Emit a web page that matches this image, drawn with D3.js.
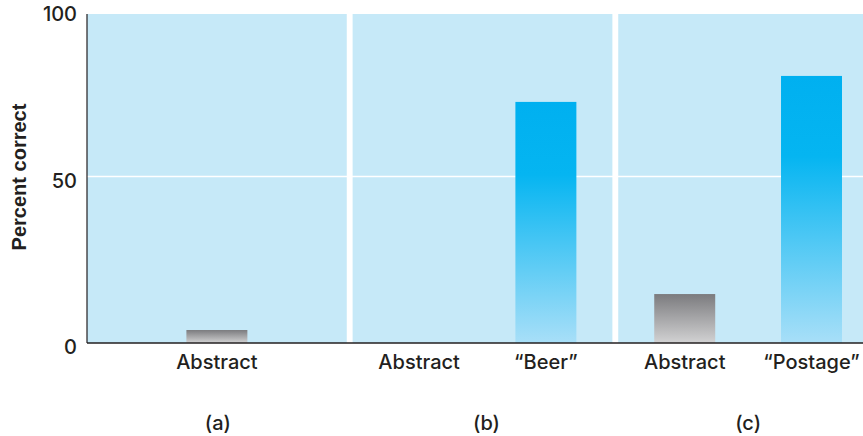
<!DOCTYPE html>
<html><head><meta charset="utf-8">
<script src="https://cdn.jsdelivr.net/npm/d3@7"></script>
<style>body{margin:0;background:#fff}svg{display:block}text{font-family:Inter,"Liberation Sans",Arial,sans-serif;fill:#231f20}</style>
</head><body><svg id="c" width="863" height="436"></svg>
<script>
const panels = ["(a)", "(b)", "(c)"];
const panelCategories = [["Abstract"], ["Abstract", "\u201cBeer\u201d"], ["Abstract", "\u201cPostage\u201d"]];
const panelValues = [[3.9], [null, 72.4], [14.7, 80.2]];
const yTicks = [0, 50, 100];
const yLabel = "Percent correct";

const svg = d3.select("#c");
const W = 863, H = 436;
const left = 87, bottom = 343, plotTop = 14;
const y = d3.scaleLinear().domain([0, 100]).range([bottom, 10]);
const xp = d3.scaleBand().domain(panels).range([left, 878]).paddingInner(0.022);

const defs = svg.append("defs");
const gb = defs.append("linearGradient").attr("id", "gBlue").attr("x1", 0).attr("y1", 0).attr("x2", 0).attr("y2", 1);
gb.append("stop").attr("offset", 0).attr("stop-color", "#00b0f0");
gb.append("stop").attr("offset", 0.3).attr("stop-color", "#05b5f1");
gb.append("stop").attr("offset", 1).attr("stop-color", "#a8dff8");
const gg = defs.append("linearGradient").attr("id", "gGray").attr("x1", 0).attr("y1", 0).attr("x2", 0).attr("y2", 1);
gg.append("stop").attr("offset", 0).attr("stop-color", "#7b7b7e");
gg.append("stop").attr("offset", 1).attr("stop-color", "#d2d2d3");

svg.selectAll("rect.bg").data(panels).join("rect").attr("class", "bg")
  .attr("x", d => xp(d)).attr("y", plotTop)
  .attr("width", xp.bandwidth()).attr("height", bottom - plotTop)
  .attr("fill", "#c6e9f8");

svg.selectAll("line.grid").data(yTicks.filter(t => t > 0 && t < 100)).join("line").attr("class", "grid")
  .attr("x1", left).attr("x2", W).attr("y1", d => y(d)).attr("y2", d => y(d))
  .attr("stroke", "#fff").attr("stroke-width", 1.5);

panels.forEach((p, i) => {
  const cats = panelCategories[i];
  const inner = d3.scaleBand().domain(cats.map((c, j) => j)).range([0, xp.bandwidth()]);
  if (cats.length === 1) inner.paddingInner(0).paddingOuter(1.63);
  else inner.paddingInner(0.519).paddingOuter(0.284);
  const bw = inner.bandwidth();
  const g = svg.append("g").attr("transform", `translate(${xp(p)},0)`);
  cats.forEach((c, j) => {
    const v = panelValues[i][j];
    if (v != null) {
      g.append("rect").attr("x", inner(j)).attr("y", y(v))
        .attr("width", bw).attr("height", bottom - y(v))
        .attr("fill", c === "Abstract" ? "url(#gGray)" : "url(#gBlue)");
    }
    g.append("text").attr("x", inner(j) + bw / 2).attr("y", 369)
      .attr("text-anchor", "middle").attr("font-size", 20).attr("font-weight", 500)
      .text(c);
  });
  svg.append("text").attr("x", xp(p) + xp.bandwidth() / 2 + (i === 0 ? 1 : (i === 1 ? 4 : 0))).attr("y", 430)
    .attr("text-anchor", "middle").attr("font-size", 20).attr("font-weight", 500)
    .text(p);
});

svg.append("line").attr("x1", left).attr("x2", W).attr("y1", bottom).attr("y2", bottom)
  .attr("stroke", "#231f20").attr("stroke-width", 1.5);
svg.append("line").attr("x1", left).attr("x2", left).attr("y1", plotTop).attr("y2", bottom)
  .attr("stroke", "#231f20").attr("stroke-width", 1.2);

svg.selectAll("text.yt").data(yTicks).join("text").attr("class", "yt")
  .attr("x", 77).attr("y", d => y(d) + 11).attr("text-anchor", "end")
  .attr("font-size", 20).attr("font-weight", 500).text(d => d);

svg.append("text").attr("transform", "translate(26,177) rotate(-90)")
  .attr("text-anchor", "middle").attr("font-size", 20).attr("font-weight", "bold")
  .style("font-family", "'Liberation Sans', Arial, sans-serif")
  .text(yLabel);
</script></body></html>
